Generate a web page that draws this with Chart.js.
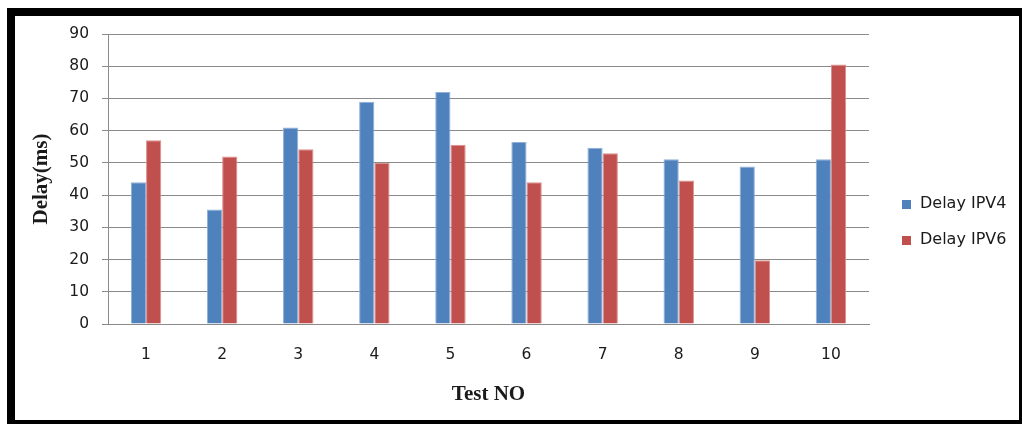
<!DOCTYPE html>
<html>
<head>
<meta charset="utf-8">
<title>Delay IPV4 / IPV6</title>
<script src="https://cdn.jsdelivr.net/npm/chart.js@4/dist/chart.umd.min.js"></script>
<style>
  html, body { margin: 0; padding: 0; background: #fff; overflow: hidden; }
  #wrap { position: relative; width: 1022px; height: 424px; overflow: hidden; }
  #chart { position: absolute; left: 0; top: 0; }
  #frame {
    position: absolute; left: 7px; top: 8px;
    width: 1004px; height: 404px;
    border: 8px solid #000; pointer-events: none;
  }
</style>
</head>
<body>
<div id="wrap">
  <canvas id="chart" width="1022" height="424"></canvas>
  <div id="frame"></div>
</div>
<script>
// Test runs and measured delay (ms) for each protocol
const testLabels = ['1', '2', '3', '4', '5', '6', '7', '8', '9', '10'];
const delayIPV4 = [44, 35.5, 61, 69, 72, 56.5, 54.7, 51.1, 48.9, 51.1];
const delayIPV6 = [57, 52, 54.2, 50, 55.6, 44, 53, 44.5, 19.8, 80.5];
const seriesNames = ['Delay IPV4', 'Delay IPV6'];
const yTickMax = 90;
const yTickStep = 10;

const BLUE = '#4F81BD';
const RED = '#C0504D';
const GRID = '#8a8a8a';
const TEXT = '#1a1a1a';
const tickFont = { family: '"DejaVu Sans", Verdana, sans-serif', size: 15.5 };
const titleFont = { family: '"Liberation Serif", "Times New Roman", serif', size: 21, weight: 'bold' };

// Legend drawn on the right side, outside the plot area
const sideLegend = {
  id: 'sideLegend',
  afterDraw(chart) {
    const ctx = chart.ctx;
    const rows = [204, 240];
    ctx.save();
    ctx.font = '16px "DejaVu Sans", Verdana, sans-serif';
    ctx.textBaseline = 'middle';
    ctx.textAlign = 'left';
    chart.data.datasets.forEach((ds, i) => {
      const y = rows[i];
      ctx.fillStyle = ds.backgroundColor;
      ctx.fillRect(902, y - 4, 9, 9);
      ctx.fillStyle = TEXT;
      ctx.fillText(ds.label, 920, y);
    });
    ctx.restore();
  }
};

// White canvas background
const whiteBg = {
  id: 'whiteBg',
  beforeDraw(chart) {
    const ctx = chart.ctx;
    ctx.save();
    ctx.fillStyle = '#fff';
    ctx.fillRect(0, 0, chart.width, chart.height);
    ctx.restore();
  }
};

new Chart(document.getElementById('chart'), {
  type: 'bar',
  data: {
    labels: testLabels,
    datasets: [
      { label: seriesNames[0], data: delayIPV4, backgroundColor: BLUE, borderColor: '#8fb0da', borderWidth: 1 },
      { label: seriesNames[1], data: delayIPV6, backgroundColor: RED, borderColor: '#dc8e8c', borderWidth: 1 }
    ]
  },
  options: {
    responsive: false,
    animation: false,
    devicePixelRatio: 1,
    layout: { padding: { left: 0, top: 34, right: 153, bottom: 0 } },
    datasets: { bar: { categoryPercentage: 0.4, barPercentage: 1.0 } },
    plugins: {
      legend: { display: false },
      tooltip: { enabled: false }
    },
    scales: {
      x: {
        grid: { display: false, drawTicks: false, tickLength: 0 },
        border: { display: true, color: GRID, width: 1 },
        ticks: { color: TEXT, font: tickFont, padding: 22, maxRotation: 0 },
        title: { display: true, text: 'Test NO', color: TEXT, font: titleFont, padding: { top: 0, bottom: 17 } },
        afterFit(scale) { scale.height = 100; }
      },
      y: {
        min: 0,
        max: yTickMax,
        grid: { color: GRID, lineWidth: 1, drawTicks: true, tickLength: 6, tickColor: GRID },
        border: { display: true, color: GRID, width: 1 },
        ticks: { stepSize: yTickStep, color: TEXT, font: tickFont, padding: 13 },
        title: { display: true, text: 'Delay(ms)', color: TEXT, font: titleFont, padding: { top: 29, bottom: 0 } },
        afterFit(scale) { scale.width = 108; }
      }
    }
  },
  plugins: [whiteBg, sideLegend]
});
</script>
</body>
</html>
